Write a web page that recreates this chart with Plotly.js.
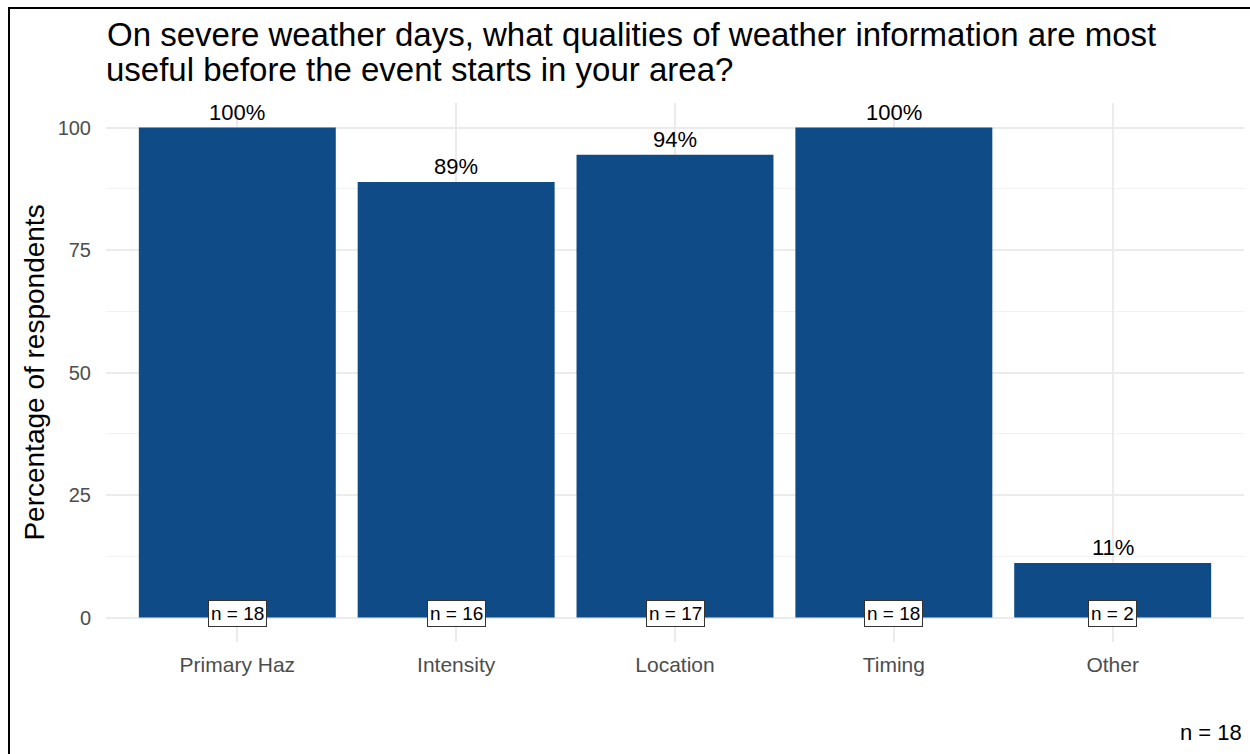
<!DOCTYPE html>
<html>
<head>
<meta charset="utf-8">
<script src="https://cdn.plot.ly/plotly-3.0.1.min.js"></script>
<style>
  html, body { margin: 0; padding: 0; background: #ffffff; }
  #wrap { position: relative; width: 1250px; height: 754px; }
  #chart { width: 1250px; height: 754px; }
  #frame {
    position: absolute; left: 8px; top: 7px; right: 0; bottom: 0;
    border-left: 2px solid #000; border-top: 2px solid #000;
    pointer-events: none;
  }
</style>
</head>
<body>
<div id="wrap">
  <div id="chart"></div>
  <div id="frame"></div>
</div>
<script>
// Survey answers: respondents choosing each quality (of 18 total)
const categories = ["Primary Haz", "Intensity", "Location", "Timing", "Other"];
const counts = [18, 16, 17, 18, 2];
const totalRespondents = 18;
const yTicks = [0, 25, 50, 75, 100];
const titleLines = [
  "On severe weather days, what qualities of weather information are most",
  "useful before the event starts in your area?"
];

const percents = counts.map(c => c / totalRespondents * 100);

const FONT = '"Liberation Sans", Arial, Helvetica, sans-serif';
const BAR = '#0f4c87';
const TITLE_SIZE = 33;

// plot area in pixels (used to place the heading's second line)
const M = { l: 106, r: 6, t: 103, b: 112 };
const W = 1250, H = 754;
const plotW = W - M.l - M.r, plotH = H - M.t - M.b;

const bars = {
  type: 'bar',
  x: categories,
  y: percents,
  width: 0.9,
  marker: { color: BAR, line: { width: 0 } },
  hoverinfo: 'x+y'
};

const annotations = [];
categories.forEach((cat, i) => {
  // percentage above each bar
  annotations.push({
    x: cat, y: percents[i], xref: 'x', yref: 'y',
    text: Math.round(percents[i]) + '%',
    showarrow: false, yanchor: 'bottom', yshift: 1,
    font: { family: FONT, size: 22, color: '#000' }
  });
  // count label sitting on the baseline
  annotations.push({
    x: cat, y: 0, xref: 'x', yref: 'y',
    text: 'n = ' + counts[i],
    showarrow: false, yanchor: 'middle', yshift: 4,
    bgcolor: '#ffffff', bordercolor: '#333333', borderwidth: 1, borderpad: 2,
    font: { family: FONT, size: 19, color: '#000' }
  });
});
// second line of the heading, kept tight under the first
annotations.push({
  x: (107 - M.l) / plotW, y: (H - M.b - 70) / plotH, xref: 'paper', yref: 'paper',
  xanchor: 'left', yanchor: 'middle', showarrow: false, xshift: -3,
  text: titleLines[1],
  font: { family: FONT, size: TITLE_SIZE, color: '#000' }
});
// overall sample size caption
annotations.push({
  x: 1, y: -0.167, xref: 'paper', yref: 'paper',
  xanchor: 'right', yanchor: 'middle', showarrow: false,
  text: 'n = ' + totalRespondents,
  font: { family: FONT, size: 22, color: '#000' }
});

const layout = {
  width: W, height: H,
  margin: M,
  paper_bgcolor: '#ffffff', plot_bgcolor: '#ffffff',
  font: { family: FONT },
  showlegend: false,
  title: {
    text: titleLines[0],
    x: 107 / W, xanchor: 'left', xref: 'container',
    y: 1 - 34 / H, yanchor: 'middle', yref: 'container',
    font: { family: FONT, size: TITLE_SIZE, color: '#000' }
  },
  xaxis: {
    type: 'category',
    range: [-0.6, 4.6],
    showgrid: true, gridcolor: '#ebebeb', gridwidth: 2,
    zeroline: false, showline: false,
    ticks: 'outside', ticklen: 4, tickcolor: 'rgba(0,0,0,0)',
    tickfont: { family: FONT, size: 21, color: '#4d4d4d' },
    fixedrange: true
  },
  yaxis: {
    range: [-5, 105],
    tickvals: yTicks,
    ticktext: yTicks.map(String),
    showgrid: true, gridcolor: '#ebebeb', gridwidth: 2,
    minor: { dtick: 12.5, tick0: 0, showgrid: true, gridcolor: '#f2f2f2', gridwidth: 1 },
    zeroline: false, showline: false,
    ticks: 'outside', ticklen: 10, tickcolor: 'rgba(0,0,0,0)',
    tickfont: { family: FONT, size: 20, color: '#4d4d4d' },
    title: {
      text: 'Percentage of respondents',
      standoff: 4,
      font: { family: FONT, size: 28, color: '#000' }
    },
    automargin: false,
    fixedrange: true
  },
  bargap: 0.1,
  annotations: annotations
};

Plotly.newPlot('chart', [bars], layout, { displayModeBar: false, staticPlot: true });
</script>
</body>
</html>
